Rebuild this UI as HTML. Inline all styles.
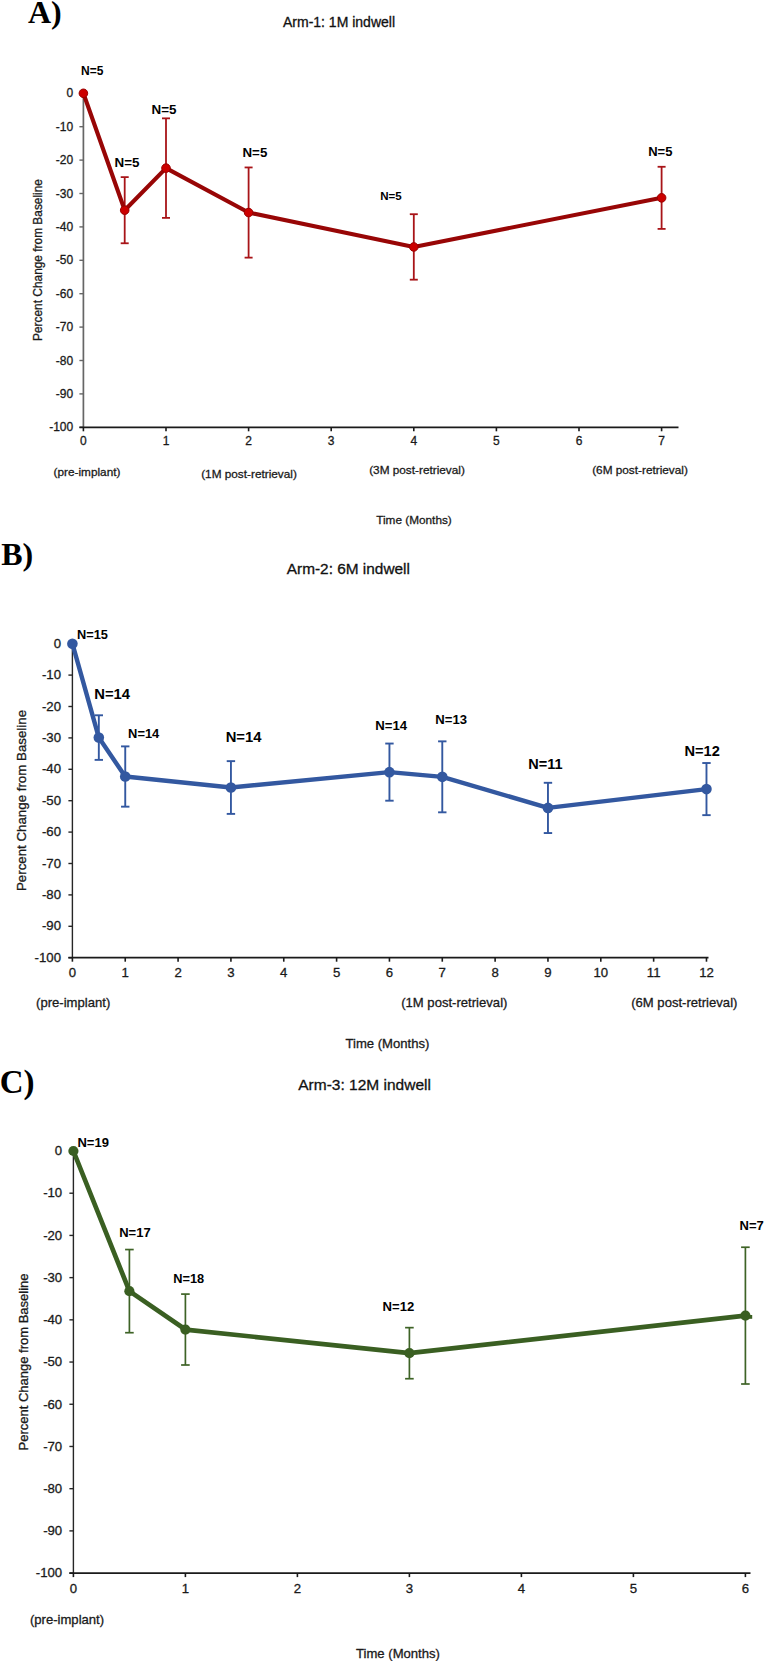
<!DOCTYPE html>
<html><head><meta charset="utf-8"><style>
html,body{margin:0;padding:0;background:#fff;}
svg{display:block;}

</style></head><body>
<svg width="764" height="1661" viewBox="0 0 764 1661">
<rect width="764" height="1661" fill="#fff"/>
<text x="27.90" y="23.40" font-size="32" text-anchor="start" font-weight="bold" font-family='"Liberation Serif", serif' fill="#000" >A)</text>
<text x="339.00" y="27.00" font-size="14" text-anchor="middle" font-weight="normal" font-family='"Liberation Sans", sans-serif' fill="#111" stroke="#111" stroke-width="0.3" >Arm-1: 1M indwell</text>
<line x1="83.4" y1="92.80" x2="83.4" y2="427.30" stroke="#666666" stroke-width="1.7"/>
<line x1="79.4" y1="93.30" x2="83.4" y2="93.30" stroke="#666666" stroke-width="1.4"/>
<text x="73.20" y="97.35" font-size="12" text-anchor="end" font-weight="normal" font-family='"Liberation Sans", sans-serif' fill="#1a1a1a" stroke="#1a1a1a" stroke-width="0.3" >0</text>
<line x1="79.4" y1="126.70" x2="83.4" y2="126.70" stroke="#666666" stroke-width="1.4"/>
<text x="73.20" y="130.75" font-size="12" text-anchor="end" font-weight="normal" font-family='"Liberation Sans", sans-serif' fill="#1a1a1a" stroke="#1a1a1a" stroke-width="0.3" >-10</text>
<line x1="79.4" y1="160.10" x2="83.4" y2="160.10" stroke="#666666" stroke-width="1.4"/>
<text x="73.20" y="164.15" font-size="12" text-anchor="end" font-weight="normal" font-family='"Liberation Sans", sans-serif' fill="#1a1a1a" stroke="#1a1a1a" stroke-width="0.3" >-20</text>
<line x1="79.4" y1="193.50" x2="83.4" y2="193.50" stroke="#666666" stroke-width="1.4"/>
<text x="73.20" y="197.55" font-size="12" text-anchor="end" font-weight="normal" font-family='"Liberation Sans", sans-serif' fill="#1a1a1a" stroke="#1a1a1a" stroke-width="0.3" >-30</text>
<line x1="79.4" y1="226.90" x2="83.4" y2="226.90" stroke="#666666" stroke-width="1.4"/>
<text x="73.20" y="230.95" font-size="12" text-anchor="end" font-weight="normal" font-family='"Liberation Sans", sans-serif' fill="#1a1a1a" stroke="#1a1a1a" stroke-width="0.3" >-40</text>
<line x1="79.4" y1="260.30" x2="83.4" y2="260.30" stroke="#666666" stroke-width="1.4"/>
<text x="73.20" y="264.35" font-size="12" text-anchor="end" font-weight="normal" font-family='"Liberation Sans", sans-serif' fill="#1a1a1a" stroke="#1a1a1a" stroke-width="0.3" >-50</text>
<line x1="79.4" y1="293.70" x2="83.4" y2="293.70" stroke="#666666" stroke-width="1.4"/>
<text x="73.20" y="297.75" font-size="12" text-anchor="end" font-weight="normal" font-family='"Liberation Sans", sans-serif' fill="#1a1a1a" stroke="#1a1a1a" stroke-width="0.3" >-60</text>
<line x1="79.4" y1="327.10" x2="83.4" y2="327.10" stroke="#666666" stroke-width="1.4"/>
<text x="73.20" y="331.15" font-size="12" text-anchor="end" font-weight="normal" font-family='"Liberation Sans", sans-serif' fill="#1a1a1a" stroke="#1a1a1a" stroke-width="0.3" >-70</text>
<line x1="79.4" y1="360.50" x2="83.4" y2="360.50" stroke="#666666" stroke-width="1.4"/>
<text x="73.20" y="364.55" font-size="12" text-anchor="end" font-weight="normal" font-family='"Liberation Sans", sans-serif' fill="#1a1a1a" stroke="#1a1a1a" stroke-width="0.3" >-80</text>
<line x1="79.4" y1="393.90" x2="83.4" y2="393.90" stroke="#666666" stroke-width="1.4"/>
<text x="73.20" y="397.95" font-size="12" text-anchor="end" font-weight="normal" font-family='"Liberation Sans", sans-serif' fill="#1a1a1a" stroke="#1a1a1a" stroke-width="0.3" >-90</text>
<line x1="79.4" y1="427.30" x2="83.4" y2="427.30" stroke="#666666" stroke-width="1.4"/>
<text x="73.20" y="431.35" font-size="12" text-anchor="end" font-weight="normal" font-family='"Liberation Sans", sans-serif' fill="#1a1a1a" stroke="#1a1a1a" stroke-width="0.3" >-100</text>
<line x1="79.4" y1="427.30" x2="678.5" y2="427.30" stroke="#1a1a1a" stroke-width="1.8"/>
<line x1="83.40" y1="427.30" x2="83.40" y2="431.30" stroke="#1a1a1a" stroke-width="1.6"/>
<text x="83.40" y="445.30" font-size="12" text-anchor="middle" font-weight="normal" font-family='"Liberation Sans", sans-serif' fill="#1a1a1a" stroke="#1a1a1a" stroke-width="0.3" >0</text>
<line x1="166.00" y1="427.30" x2="166.00" y2="431.30" stroke="#1a1a1a" stroke-width="1.6"/>
<text x="166.00" y="445.30" font-size="12" text-anchor="middle" font-weight="normal" font-family='"Liberation Sans", sans-serif' fill="#1a1a1a" stroke="#1a1a1a" stroke-width="0.3" >1</text>
<line x1="248.60" y1="427.30" x2="248.60" y2="431.30" stroke="#1a1a1a" stroke-width="1.6"/>
<text x="248.60" y="445.30" font-size="12" text-anchor="middle" font-weight="normal" font-family='"Liberation Sans", sans-serif' fill="#1a1a1a" stroke="#1a1a1a" stroke-width="0.3" >2</text>
<line x1="331.20" y1="427.30" x2="331.20" y2="431.30" stroke="#1a1a1a" stroke-width="1.6"/>
<text x="331.20" y="445.30" font-size="12" text-anchor="middle" font-weight="normal" font-family='"Liberation Sans", sans-serif' fill="#1a1a1a" stroke="#1a1a1a" stroke-width="0.3" >3</text>
<line x1="413.80" y1="427.30" x2="413.80" y2="431.30" stroke="#1a1a1a" stroke-width="1.6"/>
<text x="413.80" y="445.30" font-size="12" text-anchor="middle" font-weight="normal" font-family='"Liberation Sans", sans-serif' fill="#1a1a1a" stroke="#1a1a1a" stroke-width="0.3" >4</text>
<line x1="496.40" y1="427.30" x2="496.40" y2="431.30" stroke="#1a1a1a" stroke-width="1.6"/>
<text x="496.40" y="445.30" font-size="12" text-anchor="middle" font-weight="normal" font-family='"Liberation Sans", sans-serif' fill="#1a1a1a" stroke="#1a1a1a" stroke-width="0.3" >5</text>
<line x1="579.00" y1="427.30" x2="579.00" y2="431.30" stroke="#1a1a1a" stroke-width="1.6"/>
<text x="579.00" y="445.30" font-size="12" text-anchor="middle" font-weight="normal" font-family='"Liberation Sans", sans-serif' fill="#1a1a1a" stroke="#1a1a1a" stroke-width="0.3" >6</text>
<line x1="661.60" y1="427.30" x2="661.60" y2="431.30" stroke="#1a1a1a" stroke-width="1.6"/>
<text x="661.60" y="445.30" font-size="12" text-anchor="middle" font-weight="normal" font-family='"Liberation Sans", sans-serif' fill="#1a1a1a" stroke="#1a1a1a" stroke-width="0.3" >7</text>
<text x="87.00" y="476.00" font-size="11.8" text-anchor="middle" font-weight="normal" font-family='"Liberation Sans", sans-serif' fill="#1a1a1a" stroke="#1a1a1a" stroke-width="0.3" >(pre-implant)</text>
<text x="249.00" y="478.00" font-size="11.8" text-anchor="middle" font-weight="normal" font-family='"Liberation Sans", sans-serif' fill="#1a1a1a" stroke="#1a1a1a" stroke-width="0.3" >(1M post-retrieval)</text>
<text x="417.00" y="474.00" font-size="11.8" text-anchor="middle" font-weight="normal" font-family='"Liberation Sans", sans-serif' fill="#1a1a1a" stroke="#1a1a1a" stroke-width="0.3" >(3M post-retrieval)</text>
<text x="640.00" y="474.00" font-size="11.8" text-anchor="middle" font-weight="normal" font-family='"Liberation Sans", sans-serif' fill="#1a1a1a" stroke="#1a1a1a" stroke-width="0.3" >(6M post-retrieval)</text>
<text x="414.00" y="524.00" font-size="11.8" text-anchor="middle" font-weight="normal" font-family='"Liberation Sans", sans-serif' fill="#1a1a1a" stroke="#1a1a1a" stroke-width="0.3" >Time (Months)</text>
<text x="42.30" y="260.00" font-size="11.9" text-anchor="middle" font-weight="normal" font-family='"Liberation Sans", sans-serif' fill="#1a1a1a" stroke="#1a1a1a" stroke-width="0.3" transform="rotate(-90 42.3 260)">Percent Change from Baseline</text>
<line x1="124.70" y1="177.13" x2="124.70" y2="243.27" stroke="#A81418" stroke-width="1.8"/>
<line x1="120.70" y1="177.13" x2="128.70" y2="177.13" stroke="#A81418" stroke-width="1.8"/>
<line x1="120.70" y1="243.27" x2="128.70" y2="243.27" stroke="#A81418" stroke-width="1.8"/>
<line x1="166.00" y1="118.35" x2="166.00" y2="217.88" stroke="#A81418" stroke-width="1.8"/>
<line x1="162.00" y1="118.35" x2="170.00" y2="118.35" stroke="#A81418" stroke-width="1.8"/>
<line x1="162.00" y1="217.88" x2="170.00" y2="217.88" stroke="#A81418" stroke-width="1.8"/>
<line x1="248.60" y1="167.45" x2="248.60" y2="257.63" stroke="#A81418" stroke-width="1.8"/>
<line x1="244.60" y1="167.45" x2="252.60" y2="167.45" stroke="#A81418" stroke-width="1.8"/>
<line x1="244.60" y1="257.63" x2="252.60" y2="257.63" stroke="#A81418" stroke-width="1.8"/>
<line x1="413.80" y1="214.21" x2="413.80" y2="279.67" stroke="#A81418" stroke-width="1.8"/>
<line x1="409.80" y1="214.21" x2="417.80" y2="214.21" stroke="#A81418" stroke-width="1.8"/>
<line x1="409.80" y1="279.67" x2="417.80" y2="279.67" stroke="#A81418" stroke-width="1.8"/>
<line x1="661.60" y1="166.78" x2="661.60" y2="228.90" stroke="#A81418" stroke-width="1.8"/>
<line x1="657.60" y1="166.78" x2="665.60" y2="166.78" stroke="#A81418" stroke-width="1.8"/>
<line x1="657.60" y1="228.90" x2="665.60" y2="228.90" stroke="#A81418" stroke-width="1.8"/>
<polyline points="83.40,93.30 124.70,210.20 166.00,168.12 248.60,212.54 413.80,246.94 661.60,197.84" fill="none" stroke="#980606" stroke-width="4.1" stroke-linejoin="round"/>
<circle cx="83.40" cy="93.30" r="4.3" fill="#CC0000" stroke="#9A0000" stroke-width="1"/>
<circle cx="124.70" cy="210.20" r="4.3" fill="#CC0000" stroke="#9A0000" stroke-width="1"/>
<circle cx="166.00" cy="168.12" r="4.3" fill="#CC0000" stroke="#9A0000" stroke-width="1"/>
<circle cx="248.60" cy="212.54" r="4.3" fill="#CC0000" stroke="#9A0000" stroke-width="1"/>
<circle cx="413.80" cy="246.94" r="4.3" fill="#CC0000" stroke="#9A0000" stroke-width="1"/>
<circle cx="661.60" cy="197.84" r="4.3" fill="#CC0000" stroke="#9A0000" stroke-width="1"/>
<text x="92.30" y="74.70" font-size="12" text-anchor="middle" font-weight="bold" font-family='"Liberation Sans", sans-serif' fill="#000" >N=5</text>
<text x="127.05" y="166.70" font-size="13.4" text-anchor="middle" font-weight="bold" font-family='"Liberation Sans", sans-serif' fill="#000" >N=5</text>
<text x="164.00" y="113.90" font-size="13.4" text-anchor="middle" font-weight="bold" font-family='"Liberation Sans", sans-serif' fill="#000" >N=5</text>
<text x="254.90" y="156.70" font-size="13.3" text-anchor="middle" font-weight="bold" font-family='"Liberation Sans", sans-serif' fill="#000" >N=5</text>
<text x="390.90" y="200.20" font-size="11.55" text-anchor="middle" font-weight="bold" font-family='"Liberation Sans", sans-serif' fill="#000" >N=5</text>
<text x="660.30" y="155.80" font-size="13.0" text-anchor="middle" font-weight="bold" font-family='"Liberation Sans", sans-serif' fill="#000" >N=5</text>
<text x="1.20" y="564.80" font-size="32" text-anchor="start" font-weight="bold" font-family='"Liberation Serif", serif' fill="#000" >B)</text>
<text x="348.35" y="573.80" font-size="15.4" text-anchor="middle" font-weight="normal" font-family='"Liberation Sans", sans-serif' fill="#111" stroke="#111" stroke-width="0.3" >Arm-2: 6M indwell</text>
<line x1="72.4" y1="643.20" x2="72.4" y2="957.70" stroke="#262626" stroke-width="1.4"/>
<line x1="68.4" y1="643.70" x2="72.4" y2="643.70" stroke="#262626" stroke-width="1.4"/>
<text x="61.00" y="647.85" font-size="13.2" text-anchor="end" font-weight="normal" font-family='"Liberation Sans", sans-serif' fill="#1a1a1a" stroke="#1a1a1a" stroke-width="0.3" >0</text>
<line x1="68.4" y1="675.10" x2="72.4" y2="675.10" stroke="#262626" stroke-width="1.4"/>
<text x="61.00" y="679.25" font-size="13.2" text-anchor="end" font-weight="normal" font-family='"Liberation Sans", sans-serif' fill="#1a1a1a" stroke="#1a1a1a" stroke-width="0.3" >-10</text>
<line x1="68.4" y1="706.50" x2="72.4" y2="706.50" stroke="#262626" stroke-width="1.4"/>
<text x="61.00" y="710.65" font-size="13.2" text-anchor="end" font-weight="normal" font-family='"Liberation Sans", sans-serif' fill="#1a1a1a" stroke="#1a1a1a" stroke-width="0.3" >-20</text>
<line x1="68.4" y1="737.90" x2="72.4" y2="737.90" stroke="#262626" stroke-width="1.4"/>
<text x="61.00" y="742.05" font-size="13.2" text-anchor="end" font-weight="normal" font-family='"Liberation Sans", sans-serif' fill="#1a1a1a" stroke="#1a1a1a" stroke-width="0.3" >-30</text>
<line x1="68.4" y1="769.30" x2="72.4" y2="769.30" stroke="#262626" stroke-width="1.4"/>
<text x="61.00" y="773.45" font-size="13.2" text-anchor="end" font-weight="normal" font-family='"Liberation Sans", sans-serif' fill="#1a1a1a" stroke="#1a1a1a" stroke-width="0.3" >-40</text>
<line x1="68.4" y1="800.70" x2="72.4" y2="800.70" stroke="#262626" stroke-width="1.4"/>
<text x="61.00" y="804.85" font-size="13.2" text-anchor="end" font-weight="normal" font-family='"Liberation Sans", sans-serif' fill="#1a1a1a" stroke="#1a1a1a" stroke-width="0.3" >-50</text>
<line x1="68.4" y1="832.10" x2="72.4" y2="832.10" stroke="#262626" stroke-width="1.4"/>
<text x="61.00" y="836.25" font-size="13.2" text-anchor="end" font-weight="normal" font-family='"Liberation Sans", sans-serif' fill="#1a1a1a" stroke="#1a1a1a" stroke-width="0.3" >-60</text>
<line x1="68.4" y1="863.50" x2="72.4" y2="863.50" stroke="#262626" stroke-width="1.4"/>
<text x="61.00" y="867.65" font-size="13.2" text-anchor="end" font-weight="normal" font-family='"Liberation Sans", sans-serif' fill="#1a1a1a" stroke="#1a1a1a" stroke-width="0.3" >-70</text>
<line x1="68.4" y1="894.90" x2="72.4" y2="894.90" stroke="#262626" stroke-width="1.4"/>
<text x="61.00" y="899.05" font-size="13.2" text-anchor="end" font-weight="normal" font-family='"Liberation Sans", sans-serif' fill="#1a1a1a" stroke="#1a1a1a" stroke-width="0.3" >-80</text>
<line x1="68.4" y1="926.30" x2="72.4" y2="926.30" stroke="#262626" stroke-width="1.4"/>
<text x="61.00" y="930.45" font-size="13.2" text-anchor="end" font-weight="normal" font-family='"Liberation Sans", sans-serif' fill="#1a1a1a" stroke="#1a1a1a" stroke-width="0.3" >-90</text>
<line x1="68.4" y1="957.70" x2="72.4" y2="957.70" stroke="#262626" stroke-width="1.4"/>
<text x="61.00" y="961.85" font-size="13.2" text-anchor="end" font-weight="normal" font-family='"Liberation Sans", sans-serif' fill="#1a1a1a" stroke="#1a1a1a" stroke-width="0.3" >-100</text>
<line x1="68.4" y1="957.70" x2="708.5" y2="957.70" stroke="#1a1a1a" stroke-width="1.8"/>
<line x1="72.40" y1="957.70" x2="72.40" y2="961.70" stroke="#1a1a1a" stroke-width="1.6"/>
<text x="72.40" y="977.40" font-size="13.2" text-anchor="middle" font-weight="normal" font-family='"Liberation Sans", sans-serif' fill="#1a1a1a" stroke="#1a1a1a" stroke-width="0.3" >0</text>
<line x1="125.24" y1="957.70" x2="125.24" y2="961.70" stroke="#1a1a1a" stroke-width="1.6"/>
<text x="125.24" y="977.40" font-size="13.2" text-anchor="middle" font-weight="normal" font-family='"Liberation Sans", sans-serif' fill="#1a1a1a" stroke="#1a1a1a" stroke-width="0.3" >1</text>
<line x1="178.08" y1="957.70" x2="178.08" y2="961.70" stroke="#1a1a1a" stroke-width="1.6"/>
<text x="178.08" y="977.40" font-size="13.2" text-anchor="middle" font-weight="normal" font-family='"Liberation Sans", sans-serif' fill="#1a1a1a" stroke="#1a1a1a" stroke-width="0.3" >2</text>
<line x1="230.92" y1="957.70" x2="230.92" y2="961.70" stroke="#1a1a1a" stroke-width="1.6"/>
<text x="230.92" y="977.40" font-size="13.2" text-anchor="middle" font-weight="normal" font-family='"Liberation Sans", sans-serif' fill="#1a1a1a" stroke="#1a1a1a" stroke-width="0.3" >3</text>
<line x1="283.76" y1="957.70" x2="283.76" y2="961.70" stroke="#1a1a1a" stroke-width="1.6"/>
<text x="283.76" y="977.40" font-size="13.2" text-anchor="middle" font-weight="normal" font-family='"Liberation Sans", sans-serif' fill="#1a1a1a" stroke="#1a1a1a" stroke-width="0.3" >4</text>
<line x1="336.60" y1="957.70" x2="336.60" y2="961.70" stroke="#1a1a1a" stroke-width="1.6"/>
<text x="336.60" y="977.40" font-size="13.2" text-anchor="middle" font-weight="normal" font-family='"Liberation Sans", sans-serif' fill="#1a1a1a" stroke="#1a1a1a" stroke-width="0.3" >5</text>
<line x1="389.44" y1="957.70" x2="389.44" y2="961.70" stroke="#1a1a1a" stroke-width="1.6"/>
<text x="389.44" y="977.40" font-size="13.2" text-anchor="middle" font-weight="normal" font-family='"Liberation Sans", sans-serif' fill="#1a1a1a" stroke="#1a1a1a" stroke-width="0.3" >6</text>
<line x1="442.28" y1="957.70" x2="442.28" y2="961.70" stroke="#1a1a1a" stroke-width="1.6"/>
<text x="442.28" y="977.40" font-size="13.2" text-anchor="middle" font-weight="normal" font-family='"Liberation Sans", sans-serif' fill="#1a1a1a" stroke="#1a1a1a" stroke-width="0.3" >7</text>
<line x1="495.12" y1="957.70" x2="495.12" y2="961.70" stroke="#1a1a1a" stroke-width="1.6"/>
<text x="495.12" y="977.40" font-size="13.2" text-anchor="middle" font-weight="normal" font-family='"Liberation Sans", sans-serif' fill="#1a1a1a" stroke="#1a1a1a" stroke-width="0.3" >8</text>
<line x1="547.96" y1="957.70" x2="547.96" y2="961.70" stroke="#1a1a1a" stroke-width="1.6"/>
<text x="547.96" y="977.40" font-size="13.2" text-anchor="middle" font-weight="normal" font-family='"Liberation Sans", sans-serif' fill="#1a1a1a" stroke="#1a1a1a" stroke-width="0.3" >9</text>
<line x1="600.80" y1="957.70" x2="600.80" y2="961.70" stroke="#1a1a1a" stroke-width="1.6"/>
<text x="600.80" y="977.40" font-size="13.2" text-anchor="middle" font-weight="normal" font-family='"Liberation Sans", sans-serif' fill="#1a1a1a" stroke="#1a1a1a" stroke-width="0.3" >10</text>
<line x1="653.64" y1="957.70" x2="653.64" y2="961.70" stroke="#1a1a1a" stroke-width="1.6"/>
<text x="653.64" y="977.40" font-size="13.2" text-anchor="middle" font-weight="normal" font-family='"Liberation Sans", sans-serif' fill="#1a1a1a" stroke="#1a1a1a" stroke-width="0.3" >11</text>
<line x1="706.48" y1="957.70" x2="706.48" y2="961.70" stroke="#1a1a1a" stroke-width="1.6"/>
<text x="706.48" y="977.40" font-size="13.2" text-anchor="middle" font-weight="normal" font-family='"Liberation Sans", sans-serif' fill="#1a1a1a" stroke="#1a1a1a" stroke-width="0.3" >12</text>
<text x="73.15" y="1006.50" font-size="13.1" text-anchor="middle" font-weight="normal" font-family='"Liberation Sans", sans-serif' fill="#1a1a1a" stroke="#1a1a1a" stroke-width="0.3" >(pre-implant)</text>
<text x="454.30" y="1006.50" font-size="13.1" text-anchor="middle" font-weight="normal" font-family='"Liberation Sans", sans-serif' fill="#1a1a1a" stroke="#1a1a1a" stroke-width="0.3" >(1M post-retrieval)</text>
<text x="684.30" y="1006.50" font-size="13.1" text-anchor="middle" font-weight="normal" font-family='"Liberation Sans", sans-serif' fill="#1a1a1a" stroke="#1a1a1a" stroke-width="0.3" >(6M post-retrieval)</text>
<text x="387.45" y="1048.00" font-size="13.1" text-anchor="middle" font-weight="normal" font-family='"Liberation Sans", sans-serif' fill="#1a1a1a" stroke="#1a1a1a" stroke-width="0.3" >Time (Months)</text>
<text x="26.40" y="800.50" font-size="13.3" text-anchor="middle" font-weight="normal" font-family='"Liberation Sans", sans-serif' fill="#1a1a1a" stroke="#1a1a1a" stroke-width="0.3" transform="rotate(-90 26.4 800.5)">Percent Change from Baseline</text>
<line x1="98.82" y1="715.29" x2="98.82" y2="759.88" stroke="#3358A0" stroke-width="1.9"/>
<line x1="94.62" y1="715.29" x2="103.02" y2="715.29" stroke="#3358A0" stroke-width="1.9"/>
<line x1="94.62" y1="759.88" x2="103.02" y2="759.88" stroke="#3358A0" stroke-width="1.9"/>
<line x1="125.24" y1="746.38" x2="125.24" y2="806.67" stroke="#3358A0" stroke-width="1.9"/>
<line x1="121.04" y1="746.38" x2="129.44" y2="746.38" stroke="#3358A0" stroke-width="1.9"/>
<line x1="121.04" y1="806.67" x2="129.44" y2="806.67" stroke="#3358A0" stroke-width="1.9"/>
<line x1="230.92" y1="761.14" x2="230.92" y2="813.89" stroke="#3358A0" stroke-width="1.9"/>
<line x1="226.72" y1="761.14" x2="235.12" y2="761.14" stroke="#3358A0" stroke-width="1.9"/>
<line x1="226.72" y1="813.89" x2="235.12" y2="813.89" stroke="#3358A0" stroke-width="1.9"/>
<line x1="389.44" y1="743.55" x2="389.44" y2="800.70" stroke="#3358A0" stroke-width="1.9"/>
<line x1="385.24" y1="743.55" x2="393.64" y2="743.55" stroke="#3358A0" stroke-width="1.9"/>
<line x1="385.24" y1="800.70" x2="393.64" y2="800.70" stroke="#3358A0" stroke-width="1.9"/>
<line x1="442.28" y1="741.35" x2="442.28" y2="812.32" stroke="#3358A0" stroke-width="1.9"/>
<line x1="438.08" y1="741.35" x2="446.48" y2="741.35" stroke="#3358A0" stroke-width="1.9"/>
<line x1="438.08" y1="812.32" x2="446.48" y2="812.32" stroke="#3358A0" stroke-width="1.9"/>
<line x1="547.96" y1="782.80" x2="547.96" y2="833.04" stroke="#3358A0" stroke-width="1.9"/>
<line x1="543.76" y1="782.80" x2="552.16" y2="782.80" stroke="#3358A0" stroke-width="1.9"/>
<line x1="543.76" y1="833.04" x2="552.16" y2="833.04" stroke="#3358A0" stroke-width="1.9"/>
<line x1="706.48" y1="763.02" x2="706.48" y2="815.14" stroke="#3358A0" stroke-width="1.9"/>
<line x1="702.28" y1="763.02" x2="710.68" y2="763.02" stroke="#3358A0" stroke-width="1.9"/>
<line x1="702.28" y1="815.14" x2="710.68" y2="815.14" stroke="#3358A0" stroke-width="1.9"/>
<polyline points="72.40,643.70 98.82,737.59 125.24,776.52 230.92,787.51 389.44,772.13 442.28,776.84 547.96,807.92 706.48,789.08" fill="none" stroke="#3358A0" stroke-width="4.4" stroke-linejoin="round"/>
<circle cx="72.40" cy="643.70" r="5.3" fill="#3358A0" stroke="none" stroke-width="0"/>
<circle cx="98.82" cy="737.59" r="5.3" fill="#3358A0" stroke="none" stroke-width="0"/>
<circle cx="125.24" cy="776.52" r="5.3" fill="#3358A0" stroke="none" stroke-width="0"/>
<circle cx="230.92" cy="787.51" r="5.3" fill="#3358A0" stroke="none" stroke-width="0"/>
<circle cx="389.44" cy="772.13" r="5.3" fill="#3358A0" stroke="none" stroke-width="0"/>
<circle cx="442.28" cy="776.84" r="5.3" fill="#3358A0" stroke="none" stroke-width="0"/>
<circle cx="547.96" cy="807.92" r="5.3" fill="#3358A0" stroke="none" stroke-width="0"/>
<circle cx="706.48" cy="789.08" r="5.3" fill="#3358A0" stroke="none" stroke-width="0"/>
<text x="92.40" y="639.40" font-size="12.8" text-anchor="middle" font-weight="bold" font-family='"Liberation Sans", sans-serif' fill="#000" >N=15</text>
<text x="112.15" y="698.80" font-size="14.8" text-anchor="middle" font-weight="bold" font-family='"Liberation Sans", sans-serif' fill="#000" >N=14</text>
<text x="143.70" y="738.30" font-size="12.9" text-anchor="middle" font-weight="bold" font-family='"Liberation Sans", sans-serif' fill="#000" >N=14</text>
<text x="243.55" y="741.70" font-size="14.8" text-anchor="middle" font-weight="bold" font-family='"Liberation Sans", sans-serif' fill="#000" >N=14</text>
<text x="391.25" y="730.40" font-size="13.2" text-anchor="middle" font-weight="bold" font-family='"Liberation Sans", sans-serif' fill="#000" >N=14</text>
<text x="451.20" y="724.30" font-size="13.1" text-anchor="middle" font-weight="bold" font-family='"Liberation Sans", sans-serif' fill="#000" >N=13</text>
<text x="545.45" y="768.70" font-size="14.5" text-anchor="middle" font-weight="bold" font-family='"Liberation Sans", sans-serif' fill="#000" >N=11</text>
<text x="702.20" y="755.60" font-size="14.6" text-anchor="middle" font-weight="bold" font-family='"Liberation Sans", sans-serif' fill="#000" >N=12</text>
<text x="-0.30" y="1093.40" font-size="33" text-anchor="start" font-weight="bold" font-family='"Liberation Serif", serif' fill="#000" >C)</text>
<text x="364.60" y="1089.60" font-size="15.5" text-anchor="middle" font-weight="normal" font-family='"Liberation Sans", sans-serif' fill="#111" stroke="#111" stroke-width="0.3" >Arm-3: 12M indwell</text>
<line x1="73.4" y1="1150.50" x2="73.4" y2="1573.10" stroke="#262626" stroke-width="1.4"/>
<line x1="69.4" y1="1151.00" x2="73.4" y2="1151.00" stroke="#262626" stroke-width="1.4"/>
<text x="62.20" y="1155.25" font-size="13.2" text-anchor="end" font-weight="normal" font-family='"Liberation Sans", sans-serif' fill="#1a1a1a" stroke="#1a1a1a" stroke-width="0.3" >0</text>
<line x1="69.4" y1="1193.21" x2="73.4" y2="1193.21" stroke="#262626" stroke-width="1.4"/>
<text x="62.20" y="1197.46" font-size="13.2" text-anchor="end" font-weight="normal" font-family='"Liberation Sans", sans-serif' fill="#1a1a1a" stroke="#1a1a1a" stroke-width="0.3" >-10</text>
<line x1="69.4" y1="1235.42" x2="73.4" y2="1235.42" stroke="#262626" stroke-width="1.4"/>
<text x="62.20" y="1239.67" font-size="13.2" text-anchor="end" font-weight="normal" font-family='"Liberation Sans", sans-serif' fill="#1a1a1a" stroke="#1a1a1a" stroke-width="0.3" >-20</text>
<line x1="69.4" y1="1277.63" x2="73.4" y2="1277.63" stroke="#262626" stroke-width="1.4"/>
<text x="62.20" y="1281.88" font-size="13.2" text-anchor="end" font-weight="normal" font-family='"Liberation Sans", sans-serif' fill="#1a1a1a" stroke="#1a1a1a" stroke-width="0.3" >-30</text>
<line x1="69.4" y1="1319.84" x2="73.4" y2="1319.84" stroke="#262626" stroke-width="1.4"/>
<text x="62.20" y="1324.09" font-size="13.2" text-anchor="end" font-weight="normal" font-family='"Liberation Sans", sans-serif' fill="#1a1a1a" stroke="#1a1a1a" stroke-width="0.3" >-40</text>
<line x1="69.4" y1="1362.05" x2="73.4" y2="1362.05" stroke="#262626" stroke-width="1.4"/>
<text x="62.20" y="1366.30" font-size="13.2" text-anchor="end" font-weight="normal" font-family='"Liberation Sans", sans-serif' fill="#1a1a1a" stroke="#1a1a1a" stroke-width="0.3" >-50</text>
<line x1="69.4" y1="1404.26" x2="73.4" y2="1404.26" stroke="#262626" stroke-width="1.4"/>
<text x="62.20" y="1408.51" font-size="13.2" text-anchor="end" font-weight="normal" font-family='"Liberation Sans", sans-serif' fill="#1a1a1a" stroke="#1a1a1a" stroke-width="0.3" >-60</text>
<line x1="69.4" y1="1446.47" x2="73.4" y2="1446.47" stroke="#262626" stroke-width="1.4"/>
<text x="62.20" y="1450.72" font-size="13.2" text-anchor="end" font-weight="normal" font-family='"Liberation Sans", sans-serif' fill="#1a1a1a" stroke="#1a1a1a" stroke-width="0.3" >-70</text>
<line x1="69.4" y1="1488.68" x2="73.4" y2="1488.68" stroke="#262626" stroke-width="1.4"/>
<text x="62.20" y="1492.93" font-size="13.2" text-anchor="end" font-weight="normal" font-family='"Liberation Sans", sans-serif' fill="#1a1a1a" stroke="#1a1a1a" stroke-width="0.3" >-80</text>
<line x1="69.4" y1="1530.89" x2="73.4" y2="1530.89" stroke="#262626" stroke-width="1.4"/>
<text x="62.20" y="1535.14" font-size="13.2" text-anchor="end" font-weight="normal" font-family='"Liberation Sans", sans-serif' fill="#1a1a1a" stroke="#1a1a1a" stroke-width="0.3" >-90</text>
<line x1="69.4" y1="1573.10" x2="73.4" y2="1573.10" stroke="#262626" stroke-width="1.4"/>
<text x="62.20" y="1577.35" font-size="13.2" text-anchor="end" font-weight="normal" font-family='"Liberation Sans", sans-serif' fill="#1a1a1a" stroke="#1a1a1a" stroke-width="0.3" >-100</text>
<line x1="69.4" y1="1573.10" x2="750.5" y2="1573.10" stroke="#1a1a1a" stroke-width="1.8"/>
<line x1="73.40" y1="1573.10" x2="73.40" y2="1577.10" stroke="#1a1a1a" stroke-width="1.6"/>
<text x="73.40" y="1592.70" font-size="13.2" text-anchor="middle" font-weight="normal" font-family='"Liberation Sans", sans-serif' fill="#1a1a1a" stroke="#1a1a1a" stroke-width="0.3" >0</text>
<line x1="185.40" y1="1573.10" x2="185.40" y2="1577.10" stroke="#1a1a1a" stroke-width="1.6"/>
<text x="185.40" y="1592.70" font-size="13.2" text-anchor="middle" font-weight="normal" font-family='"Liberation Sans", sans-serif' fill="#1a1a1a" stroke="#1a1a1a" stroke-width="0.3" >1</text>
<line x1="297.40" y1="1573.10" x2="297.40" y2="1577.10" stroke="#1a1a1a" stroke-width="1.6"/>
<text x="297.40" y="1592.70" font-size="13.2" text-anchor="middle" font-weight="normal" font-family='"Liberation Sans", sans-serif' fill="#1a1a1a" stroke="#1a1a1a" stroke-width="0.3" >2</text>
<line x1="409.40" y1="1573.10" x2="409.40" y2="1577.10" stroke="#1a1a1a" stroke-width="1.6"/>
<text x="409.40" y="1592.70" font-size="13.2" text-anchor="middle" font-weight="normal" font-family='"Liberation Sans", sans-serif' fill="#1a1a1a" stroke="#1a1a1a" stroke-width="0.3" >3</text>
<line x1="521.40" y1="1573.10" x2="521.40" y2="1577.10" stroke="#1a1a1a" stroke-width="1.6"/>
<text x="521.40" y="1592.70" font-size="13.2" text-anchor="middle" font-weight="normal" font-family='"Liberation Sans", sans-serif' fill="#1a1a1a" stroke="#1a1a1a" stroke-width="0.3" >4</text>
<line x1="633.40" y1="1573.10" x2="633.40" y2="1577.10" stroke="#1a1a1a" stroke-width="1.6"/>
<text x="633.40" y="1592.70" font-size="13.2" text-anchor="middle" font-weight="normal" font-family='"Liberation Sans", sans-serif' fill="#1a1a1a" stroke="#1a1a1a" stroke-width="0.3" >5</text>
<line x1="745.40" y1="1573.10" x2="745.40" y2="1577.10" stroke="#1a1a1a" stroke-width="1.6"/>
<text x="745.40" y="1592.70" font-size="13.2" text-anchor="middle" font-weight="normal" font-family='"Liberation Sans", sans-serif' fill="#1a1a1a" stroke="#1a1a1a" stroke-width="0.3" >6</text>
<text x="67.00" y="1623.80" font-size="13.1" text-anchor="middle" font-weight="normal" font-family='"Liberation Sans", sans-serif' fill="#1a1a1a" stroke="#1a1a1a" stroke-width="0.3" >(pre-implant)</text>
<text x="398.00" y="1657.60" font-size="13.1" text-anchor="middle" font-weight="normal" font-family='"Liberation Sans", sans-serif' fill="#1a1a1a" stroke="#1a1a1a" stroke-width="0.3" >Time (Months)</text>
<text x="27.60" y="1362.00" font-size="13.0" text-anchor="middle" font-weight="normal" font-family='"Liberation Sans", sans-serif' fill="#1a1a1a" stroke="#1a1a1a" stroke-width="0.3" transform="rotate(-90 27.6 1362)">Percent Change from Baseline</text>
<line x1="129.40" y1="1249.56" x2="129.40" y2="1332.71" stroke="#3E6326" stroke-width="1.7"/>
<line x1="125.10" y1="1249.56" x2="133.70" y2="1249.56" stroke="#3E6326" stroke-width="1.7"/>
<line x1="125.10" y1="1332.71" x2="133.70" y2="1332.71" stroke="#3E6326" stroke-width="1.7"/>
<line x1="185.40" y1="1294.09" x2="185.40" y2="1365.00" stroke="#3E6326" stroke-width="1.7"/>
<line x1="181.10" y1="1294.09" x2="189.70" y2="1294.09" stroke="#3E6326" stroke-width="1.7"/>
<line x1="181.10" y1="1365.00" x2="189.70" y2="1365.00" stroke="#3E6326" stroke-width="1.7"/>
<line x1="409.40" y1="1327.65" x2="409.40" y2="1378.72" stroke="#3E6326" stroke-width="1.7"/>
<line x1="405.10" y1="1327.65" x2="413.70" y2="1327.65" stroke="#3E6326" stroke-width="1.7"/>
<line x1="405.10" y1="1378.72" x2="413.70" y2="1378.72" stroke="#3E6326" stroke-width="1.7"/>
<line x1="745.40" y1="1247.24" x2="745.40" y2="1384.00" stroke="#3E6326" stroke-width="1.7"/>
<line x1="741.10" y1="1247.24" x2="749.70" y2="1247.24" stroke="#3E6326" stroke-width="1.7"/>
<line x1="741.10" y1="1384.00" x2="749.70" y2="1384.00" stroke="#3E6326" stroke-width="1.7"/>
<polyline points="73.40,1151.00 129.40,1291.14 185.40,1329.55 409.40,1353.19 745.40,1315.62" fill="none" stroke="#3A5F22" stroke-width="4.7" stroke-linejoin="round"/>
<circle cx="73.40" cy="1151.00" r="5.1" fill="#3A5F22" stroke="none" stroke-width="0"/>
<circle cx="129.40" cy="1291.14" r="5.1" fill="#3A5F22" stroke="none" stroke-width="0"/>
<circle cx="185.40" cy="1329.55" r="5.1" fill="#3A5F22" stroke="none" stroke-width="0"/>
<circle cx="409.40" cy="1353.19" r="5.1" fill="#3A5F22" stroke="none" stroke-width="0"/>
<circle cx="745.40" cy="1315.62" r="5.1" fill="#3A5F22" stroke="none" stroke-width="0"/>
<rect x="748" y="1315" width="4.2" height="3.8" fill="#3A5F22"/>
<text x="93.15" y="1147.00" font-size="13" text-anchor="middle" font-weight="bold" font-family='"Liberation Sans", sans-serif' fill="#000" >N=19</text>
<text x="134.95" y="1236.80" font-size="13" text-anchor="middle" font-weight="bold" font-family='"Liberation Sans", sans-serif' fill="#000" >N=17</text>
<text x="188.75" y="1282.60" font-size="12.8" text-anchor="middle" font-weight="bold" font-family='"Liberation Sans", sans-serif' fill="#000" >N=18</text>
<text x="398.45" y="1310.70" font-size="13.1" text-anchor="middle" font-weight="bold" font-family='"Liberation Sans", sans-serif' fill="#000" >N=12</text>
<text x="751.70" y="1229.70" font-size="13" text-anchor="middle" font-weight="bold" font-family='"Liberation Sans", sans-serif' fill="#000" >N=7</text>
</svg>
</body></html>
